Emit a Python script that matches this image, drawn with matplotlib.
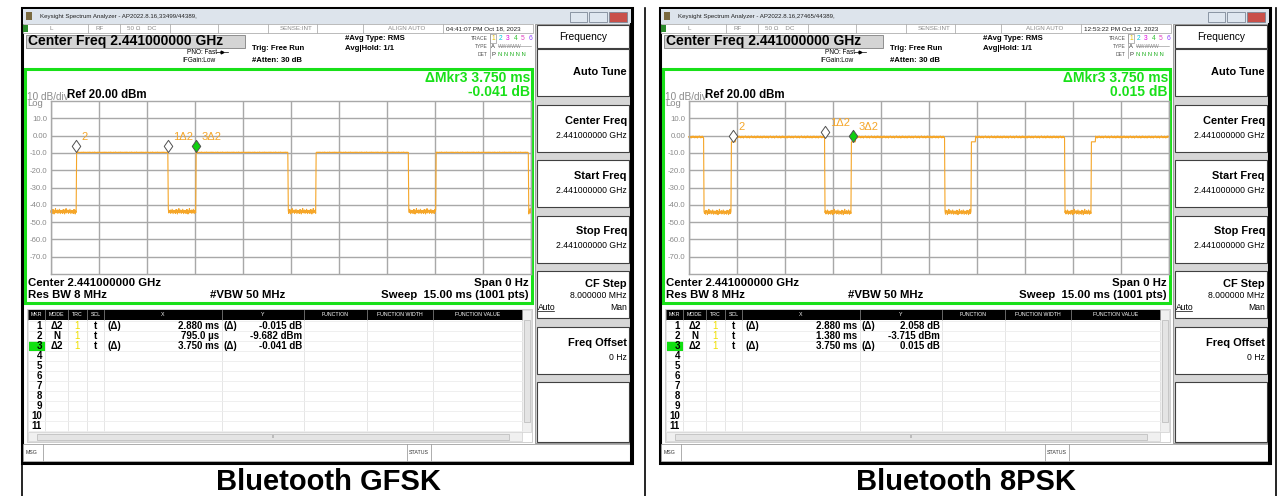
import numpy as np
import matplotlib.pyplot as plt
from matplotlib.patches import Rectangle
from matplotlib.path import Path

plt.rcParams['font.family'] = ['Liberation Sans', 'DejaVu Sans']

W, H = 1282, 496

# sweep settings (zero span, 15 ms, 1001 pts)
sweep_ms = 15.0
n_pts = 1001
ref_dbm = 20.0
bottom_dbm = -80.0
ytick_vals = [10, 0, -10, -20, -30, -40, -50, -60, -70]
ytick_labels = ['10.0', '0.00', '-10.0', '-20.0', '-30.0', '-40.0', '-50.0', '-60.0', '-70.0']

# GFSK bursts: on/off edges in ms and levels in dBm
gfsk_on_ms = [0.795, 4.545, 8.295, 12.045]
gfsk_off_ms = [3.675, 7.425, 11.175, 14.925]
gfsk_on_dbm = -9.7
gfsk_off_dbm = -43.8

# 8PSK bursts (small ramp step after each rising edge)
psk_on_ms = [-1.0, 1.33, 5.08, 8.83, 12.58]
psk_off_ms = [0.48, 4.25, 8.0, 11.75, 16.0]
psk_on_dbm = -0.8
psk_off_dbm = -44.2
psk_ramp_ms = 0.13
psk_ramp_dbm = -3.6

floor_ripple = [0.3, -0.8, 0.5, -1.2, 1.0, -0.4, 0.9, -1.5, 0.2, -0.6, 1.6, -0.9,
                0.4, -0.3, 0.8, -1.1, 0.5, -0.7, 1.2, -0.2, -1.3, 0.6]
gfsk_top_ripple = [0.0, 0.1, -0.1, 0.0, 0.2, 0.0, -0.1, 0.1, 0.0, -0.2, 0.1]
psk_top_ripple = [0.2, -0.4, 0.5, -0.2, 0.1, -0.6, 0.4, 0.0, -0.3, 0.6, -0.1, 0.3, -0.5]

# markers: ordered 1, 2, 3
gfsk_mkr_ms = [3.675, 0.795, 4.545]
gfsk_mkr_dbm = [-9.697, -9.682, -9.723]
psk_mkr_ms = [4.26, 1.38, 5.13]
psk_mkr_dbm = [-1.657, -3.715, -3.70]
mkr_labels = ['1\u03942', '2', '3\u03942']

# marker table rows
gfsk_rows = [('1', '\u03942', '1', 't', '(\u0394)', '2.880 ms', '(\u0394)', '-0.015 dB'),
             ('2', 'N', '1', 't', '', '795.0 \u00b5s', '', '-9.682 dBm'),
             ('3', '\u03942', '1', 't', '(\u0394)', '3.750 ms', '(\u0394)', '-0.041 dB')]
psk_rows = [('1', '\u03942', '1', 't', '(\u0394)', '2.880 ms', '(\u0394)', '2.058 dB'),
            ('2', 'N', '1', 't', '', '1.380 ms', '', '-3.715 dBm'),
            ('3', '\u03942', '1', 't', '(\u0394)', '3.750 ms', '(\u0394)', '0.015 dB')]

gfsk_title = 'Keysight Spectrum Analyzer - AP2022.8.16,33499/44389,'
psk_title = 'Keysight Spectrum Analyzer - AP2022.8.16,27465/44389,'
gfsk_time = '04:41:07 PM Oct 18, 2023'
psk_time = '12:53:22 PM Oct 12, 2023'
gfsk_delta = '-0.041 dB'
psk_delta = '0.015 dB'
captions = ['Bluetooth GFSK', 'Bluetooth 8PSK']

softkeys = [('Center Freq', '2.441000000 GHz'), ('Start Freq', '2.441000000 GHz'),
            ('Stop Freq', '2.441000000 GHz'), ('CF Step', '8.000000 MHz'),
            ('Freq Offset', '0 Hz')]

ORANGE = '#f5a629'
GREEN = '#19e019'
GRAY = '#8a8a8a'

t = np.linspace(0, sweep_ms, n_pts)


def burst_trace(on_ms, off_ms, hi, lo, top_rip, ramp_ms=0.0, ramp_db=None):
    y = np.full(t.size, lo)
    on = np.zeros(t.size, bool)
    for a, b in zip(on_ms, off_ms):
        on |= (t >= a) & (t < b)
    y[on] = hi + np.resize(top_rip, on.sum())
    y[~on] = lo + np.resize(floor_ripple, (~on).sum())
    if ramp_ms:
        for a in on_ms:
            y[(t >= a) & (t < a + ramp_ms)] = ramp_db
    return y


gfsk_y = burst_trace(gfsk_on_ms, gfsk_off_ms, gfsk_on_dbm, gfsk_off_dbm, gfsk_top_ripple)
psk_y = burst_trace(psk_on_ms, psk_off_ms, psk_on_dbm, psk_off_dbm, psk_top_ripple,
                    psk_ramp_ms, psk_ramp_dbm)

fig = plt.figure(figsize=(W / 100, H / 100), dpi=100)
bg = fig.add_axes([0, 0, 1, 1])
bg.set_xlim(0, W)
bg.set_ylim(H, 0)
bg.axis('off')


def rect(x0, y0, x1, y1, fc='none', ec='none', lw=0.8, z=1):
    bg.add_patch(Rectangle((x0, y0), x1 - x0, y1 - y0, fc=fc, ec=ec, lw=lw, zorder=z))


def txt(x, y, s, size, **kw):
    kw.setdefault('va', 'center')
    bg.text(x, y, s, fontsize=size, **kw)


# diamond marker with its bottom tip on the trace point
diamond = Path([(0, 0), (4.2, 6), (0, 12), (-4.2, 6), (0, 0)],
               [Path.MOVETO, Path.LINETO, Path.LINETO, Path.LINETO, Path.CLOSEPOLY])


def window(ox, title, clock, delta, rows, ty, mkr_ms, mkr_dbm, caption):
    # outer window frame
    rect(ox + 22, 8, ox + 632, 463, fc='white', ec='black', lw=2.2)
    # title bar
    rect(ox + 23, 9, ox + 631, 24, fc='#dde4ec')
    rect(ox + 26, 12, ox + 32, 20, fc='#7a6a40')
    txt(ox + 40, 16.5, title, 4.4, color='#222222')
    for bx0, bx1, c in [(570, 587, '#dfe7f0'), (589, 607, '#dfe7f0'), (609, 627, '#c9504a')]:
        rect(ox + bx0, 12, ox + bx1, 22, fc=c, ec='#7d8897', lw=0.6)
    # status row
    rect(ox + 23, 24, ox + 533, 33, fc='white', ec='#b0b0b0', lw=0.6)
    rect(ox + 23, 25, ox + 28, 32, fc='#2a8a2a')
    for sx in [88, 120, 170, 218, 268, 317, 363, 443]:
        bg.plot([ox + sx, ox + sx], [24, 33], color='#b0b0b0', lw=0.6)
    txt(ox + 50, 29, 'L', 4.5, color=GRAY)
    txt(ox + 96, 29, 'RF', 4.5, color=GRAY)
    txt(ox + 127, 29, '50 \u03a9    DC', 4.5, color=GRAY)
    txt(ox + 313, 29, 'SENSE:INT', 4.5, color=GRAY, ha='right')
    txt(ox + 407, 29, 'ALIGN AUTO', 4.5, color=GRAY, ha='center')
    txt(ox + 446, 29, clock, 4.6, color='#222222')
    # center freq box
    rect(ox + 26, 35, ox + 245, 48, fc='#d4d4d4', ec='#808080', lw=0.6)
    txt(ox + 28, 41.5, 'Center Freq 2.441000000 GHz', 10, fontweight='bold')
    txt(ox + 187, 52, 'PNO: Fast', 4.7)
    bg.plot([ox + 216, ox + 228], [52, 52], color='black', lw=0.5)
    bg.plot([ox + 222], [52], marker='>', ms=2, color='black')
    txt(ox + 182, 61, 'IFGain:Low', 4.7)
    txt(ox + 252, 49, 'Trig: Free Run', 5.6, fontweight='bold')
    txt(ox + 252, 60, '#Atten: 30 dB', 5.6, fontweight='bold')
    txt(ox + 345, 39, '#Avg Type: RMS', 5.6, fontweight='bold')
    txt(ox + 345, 49, 'Avg|Hold: 1/1', 5.6, fontweight='bold')
    # trace legend block
    txt(ox + 488, 38, 'TRACE', 3.6, color='#555555', ha='right')
    txt(ox + 488, 46, 'TYPE', 3.6, color='#555555', ha='right')
    txt(ox + 488, 54, 'DET', 3.6, color='#555555', ha='right')
    bg.plot([ox + 489.5] * 2, [34, 58], color='#999999', lw=0.5)
    rect(ox + 490, 34, ox + 496, 43, ec='#999999', lw=0.5)
    for i, c in enumerate(['#e8c000', '#00c8e0', '#e000e0', '#30c030', '#e040c0', '#9040ff']):
        txt(ox + 493 + 7.5 * i, 39, str(i + 1), 4.8, color=c, ha='center')
    txt(ox + 491, 46, 'A', 4.2, color='#333333')
    txt(ox + 498, 46, 'WWWWW', 3.6, color='#888888')
    bg.plot([ox + 498, ox + 531], [46, 46], color='#888888', lw=0.4)
    txt(ox + 491, 54, 'P', 4.2, color='#333333')
    txt(ox + 498, 54, 'N N N N N', 4.2, color='#20b020')
    # green measurement frame
    rect(ox + 25, 68.5, ox + 532, 303, ec=GREEN, lw=2.2, z=3)
    txt(ox + 530, 77.5, '\u0394Mkr3 3.750 ms', 10, color=GREEN, fontweight='bold', ha='right')
    txt(ox + 530, 91.5, delta, 10, color=GREEN, fontweight='bold', ha='right')
    txt(ox + 27, 96.5, '10 dB/div', 7.2, color=GRAY)
    txt(ox + 67, 95.5, 'Ref 20.00 dBm', 8.3, fontweight='bold')
    txt(ox + 27, 104, 'Log', 6.8, color=GRAY)
    txt(ox + 28, 282.5, 'Center 2.441000000 GHz', 8.2, fontweight='bold')
    txt(ox + 28, 295.5, 'Res BW 8 MHz', 8.2, fontweight='bold')
    txt(ox + 210, 295.5, '#VBW 50 MHz', 8.2, fontweight='bold')
    txt(ox + 529, 282.5, 'Span 0 Hz', 8.2, fontweight='bold', ha='right')
    txt(ox + 529, 295.5, 'Sweep  15.00 ms (1001 pts)', 8.2, fontweight='bold', ha='right')

    # trace graticule
    ax = fig.add_axes([(ox + 50.7) / W, 1 - 274 / H, 480 / W, 173 / H])
    ax.set_xlim(0, sweep_ms)
    ax.set_ylim(bottom_dbm, ref_dbm)
    ax.set_xticks(np.arange(0, sweep_ms + 0.01, 1.5))
    ax.set_xticklabels([])
    ax.set_yticks(ytick_vals)
    ax.set_yticklabels(ytick_labels)
    ax.tick_params(length=0, pad=2.5, labelsize=5.6, labelcolor=GRAY)
    ax.grid(True, color='#a8a8a8', lw=1.0)
    ax.set_axisbelow(True)
    for s in ax.spines.values():
        s.set_color('#a8a8a8')
        s.set_linewidth(1.0)
    ax.plot(t, ty, color=ORANGE, lw=0.8, clip_on=False)
    for i, (mx, my) in enumerate(zip(mkr_ms, mkr_dbm)):
        fc = '#10d010' if i == 2 else 'white'
        ax.plot(mx, my, marker=diamond, ms=17.5, mfc=fc, mec='#505050', mew=0.7,
                ls='none', zorder=5, clip_on=False)
        ax.annotate(mkr_labels[i], (mx, my), xytext=(3.8, 11), textcoords='offset points',
                    color=ORANGE, fontsize=8, va='center', ha='left', zorder=6)

    # marker table
    tx = [28, 45, 68, 87, 104, 222, 304, 367, 433, 522]
    rect(ox + 27, 309, ox + 532, 442, fc='white', ec='#c8c8c8', lw=0.6)
    rect(ox + 28, 310, ox + 522, 320, fc='black')
    for x0 in tx:
        bg.plot([ox + x0] * 2, [310, 320], color='#777777', lw=0.6)
        bg.plot([ox + x0] * 2, [320, 431], color='#e2e2e2', lw=0.6)
    for k in range(12):
        bg.plot([ox + 28, ox + 522], [321 + 10 * k] * 2, color='#ececec', lw=0.6)
    heads = ['MKR', 'MODE', 'TRC', 'SCL', 'X', 'Y', 'FUNCTION', 'FUNCTION WIDTH', 'FUNCTION VALUE']
    for i, hname in enumerate(heads):
        txt(ox + (tx[i] + tx[i + 1]) / 2, 315, hname, 3.8, color='white', ha='center')
    rect(ox + 28.5, 341, ox + 44.5, 351, fc='#10e010')
    for r in range(11):
        txt(ox + 42, 326 + 10 * r, str(r + 1), 7, fontweight='bold', ha='right')
    for r, row in enumerate(rows):
        y = 326 + 10 * r
        txt(ox + 57, y, row[1], 7, fontweight='bold', ha='center')
        txt(ox + 77, y, row[2], 7, color='#f0e000', ha='center')
        txt(ox + 95, y, row[3], 7, fontweight='bold', ha='center')
        txt(ox + 107, y, row[4], 7, fontweight='bold')
        txt(ox + 219, y, row[5], 7, fontweight='bold', ha='right')
        txt(ox + 223, y, row[6], 7, fontweight='bold')
        txt(ox + 302, y, row[7], 7, fontweight='bold', ha='right')
    # scrollbars
    rect(ox + 522, 310, ox + 531, 432, fc='#f0f0f0', ec='#d0d0d0', lw=0.5)
    rect(ox + 523.5, 320, ox + 529.5, 422, fc='#e4e4e4', ec='#b8b8b8', lw=0.5)
    rect(ox + 28, 432, ox + 522, 441, fc='#f0f0f0', ec='#d0d0d0', lw=0.5)
    rect(ox + 37, 433.5, ox + 509, 439.5, fc='#e4e4e4', ec='#b8b8b8', lw=0.5)
    txt(ox + 273, 436.5, 'III', 3, color='#777777', ha='center')
    # message bar
    rect(ox + 23, 444, ox + 631, 461, fc='white', ec='#a0a0a0', lw=0.6)
    bg.plot([ox + 43] * 2, [444, 461], color='#a0a0a0', lw=0.6)
    bg.plot([ox + 407] * 2, [444, 461], color='#a0a0a0', lw=0.6)
    bg.plot([ox + 431] * 2, [444, 461], color='#a0a0a0', lw=0.6)
    txt(ox + 26, 453, 'MSG', 3.8, color='#333333')
    txt(ox + 409, 453, 'STATUS', 3.8, color='#333333')

    # softkey panel
    rect(ox + 535, 24, ox + 630, 443, fc='#d6d6d6', ec='#909090', lw=0.6)
    rect(ox + 537, 25, ox + 629, 48, fc='white', ec='#404040', lw=0.8)
    txt(ox + 583, 36.5, 'Frequency', 7.3, ha='center')
    rect(ox + 537, 49, ox + 629, 96, fc='white', ec='#404040', lw=0.8)
    txt(ox + 627, 72, 'Auto Tune', 7.9, fontweight='bold', ha='right')
    for k, (name, val) in enumerate(softkeys):
        top = 104.5 + 55.5 * k
        rect(ox + 537, top, ox + 629, top + 47, fc='white', ec='#404040', lw=0.8)
        if name == 'CF Step':
            txt(ox + 627, top + 13, name, 7.9, fontweight='bold', ha='right')
            txt(ox + 627, top + 25, val, 6.2, ha='right')
            txt(ox + 538, top + 36, 'Auto', 6.2)
            bg.plot([ox + 538, ox + 554], [top + 40, top + 40], color='black', lw=0.5)
            txt(ox + 627, top + 36, 'Man', 6.2, ha='right')
        else:
            txt(ox + 627, top + 16, name, 7.9, fontweight='bold', ha='right')
            txt(ox + 627, top + 30.5, val, 6.2, ha='right')
    rect(ox + 537, 382, ox + 629, 442, fc='white', ec='#404040', lw=0.8)
    bg.plot([ox + 631, ox + 631], [24, 463], color='black', lw=2.2)

    # caption
    txt(ox + 328, 482, caption, 21, fontweight='bold', ha='center')


window(0, gfsk_title, gfsk_time, gfsk_delta, gfsk_rows, gfsk_y,
       gfsk_mkr_ms, gfsk_mkr_dbm, captions[0])
window(638, psk_title, psk_time, psk_delta, psk_rows, psk_y,
       psk_mkr_ms, psk_mkr_dbm, captions[1])

# outer table cell lines
for x in [22, 644.5, 1276]:
    bg.plot([x, x], [8, H], color='black', lw=1.2)

fig.savefig('out.png', dpi=100)
